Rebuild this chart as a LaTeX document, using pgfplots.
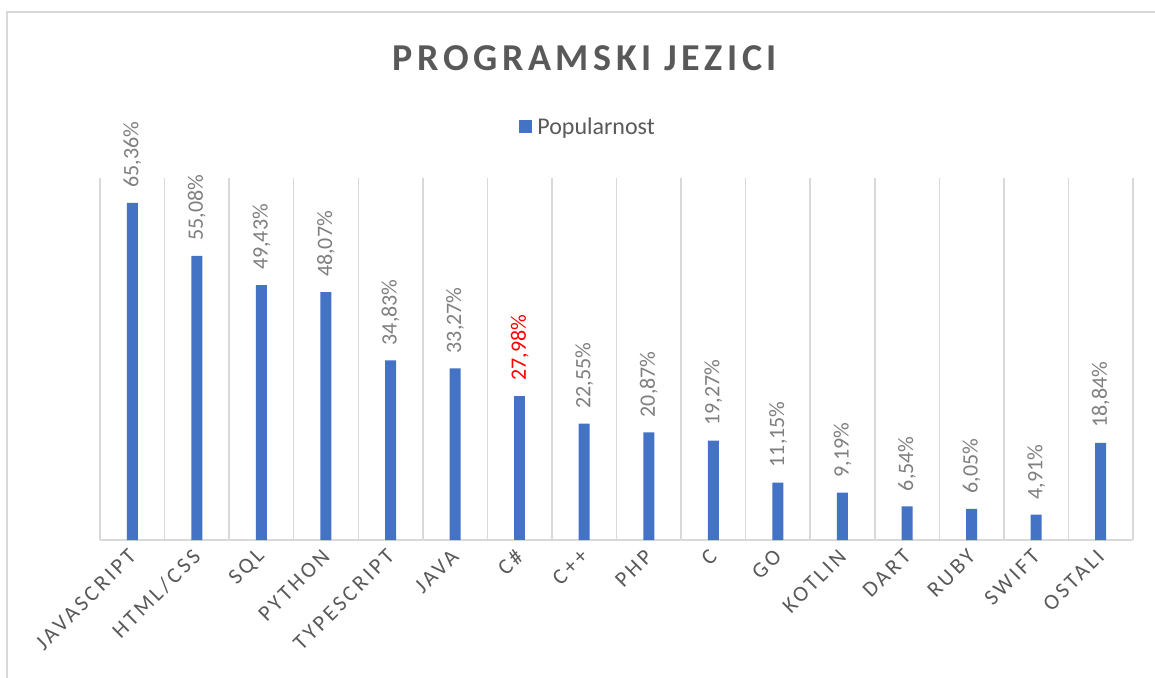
\documentclass[border=0pt]{standalone}
\usepackage{pgfplots}
\pgfplotsset{compat=1.18}
\usepackage{fontspec}
\setmainfont{Carlito}
\newfontfamily\spacedfont[LetterSpace=14]{Carlito}
\newfontfamily\titlefont[LetterSpace=12]{Carlito}
\definecolor{barblue}{HTML}{4472C4}
\definecolor{txtgray}{HTML}{595959}
\definecolor{lblgray}{HTML}{7F7F7F}
\definecolor{gridgray}{HTML}{D9D9D9}
\begin{document}
\begin{tikzpicture}[x=1pt,y=1pt]
\useasboundingbox (0,0) rectangle (1155,677);
\fill[white] (0,0) rectangle (1155,677);
\draw[gridgray, line width=1.5pt] (7,-5) -- (7,665) -- (1160,665);
\node[text=txtgray, font=\titlefont\bfseries\fontsize{38}{44}\selectfont] at (585,619) {PROGRAMSKI JEZICI};
\begin{axis}[
  at={(100pt,137pt)}, anchor=south west,
  scale only axis, width=1033pt, height=362pt,
  xmin=-0.5, xmax=15.5, ymin=0, ymax=70.2,
  hide y axis,
  axis x line=bottom,
  x axis line style={-, gridgray, line width=1.5pt},
  xtick={0,...,15},
  xticklabels={JAVASCRIPT, HTML/CSS, SQL, PYTHON, TYPESCRIPT, JAVA, C\#, C++, PHP, C, GO, KOTLIN, DART, RUBY, SWIFT, OSTALI},
  xticklabel style={rotate=45, anchor=east, font=\spacedfont\fontsize{22}{26}\selectfont, text=txtgray, inner sep=0pt},
  xticklabel shift=13pt,
  major tick length=0pt, minor tick length=0pt,
  minor xtick={-0.5,0.5,...,15.5},
  xminorgrids=true,
  minor grid style={gridgray, line width=1.5pt},
  legend style={at={(0.474,1.141)}, anchor=center, draw=none, fill=none,
    font=\fontsize{24}{28}\selectfont, text=txtgray,
    nodes={inner xsep=5pt}},
  legend image code/.code={\fill[barblue] (0pt,-6.5pt) rectangle (13pt,6.5pt);},
  clip=false,
]
\addplot[ybar, bar width=11pt, bar shift=0pt, fill=barblue, draw=none,
  nodes near coords={\pgfmathprintnumber[fixed,fixed zerofill,precision=2,use comma,assume math mode=true]{\pgfplotspointmeta}\%},
  every node near coord/.append style={rotate=90, anchor=west, inner xsep=15pt, inner ysep=0pt,
    font=\fontsize{22}{26}\selectfont, text=lblgray}]
coordinates {(0,65.36) (1,55.08) (2,49.43) (3,48.07) (4,34.83) (5,33.27) (7,22.55) (8,20.87) (9,19.27) (10,11.15) (11,9.19) (12,6.54) (13,6.05) (14,4.91) (15,18.84)};
\addlegendentry{Popularnost}
\addplot[ybar, bar width=11pt, bar shift=0pt, fill=barblue, draw=none, forget plot,
  nodes near coords={\pgfmathprintnumber[fixed,fixed zerofill,precision=2,use comma,assume math mode=true]{\pgfplotspointmeta}\%},
  every node near coord/.append style={rotate=90, anchor=west, inner xsep=15pt, inner ysep=0pt,
    font=\fontsize{22}{26}\selectfont, text=red}]
coordinates {(6,27.98)};
\end{axis}
\end{tikzpicture}
\end{document}
